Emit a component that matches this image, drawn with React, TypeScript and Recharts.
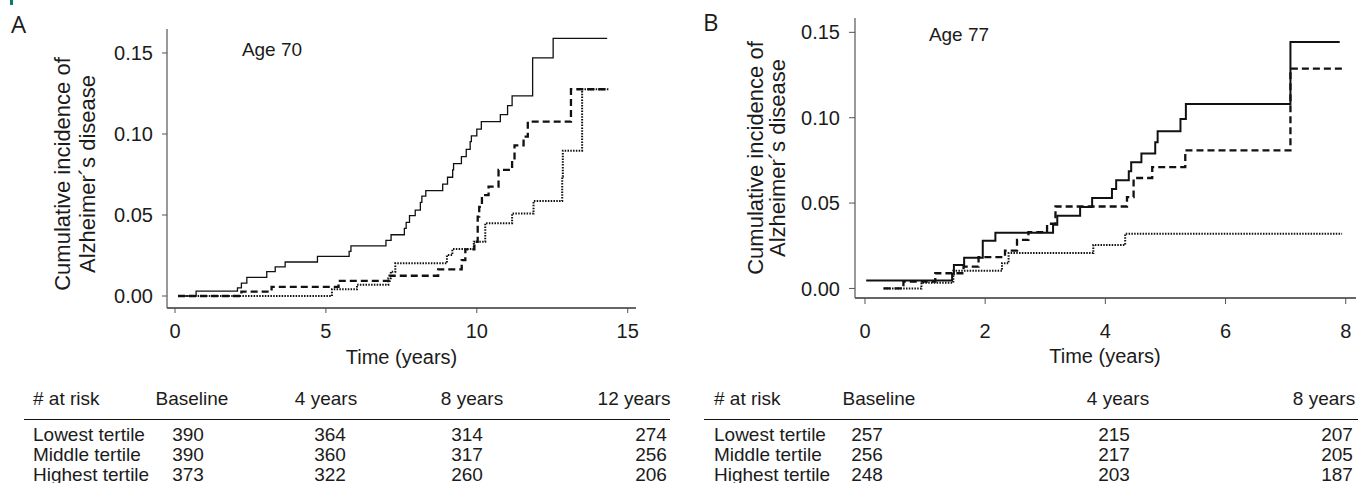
import { Fragment } from "react";
import { Label, Line, LineChart, XAxis, YAxis } from "recharts";

// Kaplan-Meier style step curves: [years, cumulative incidence]
const age70Solid = [
  [0.1, 0], [0.7, 0.003], [2.07, 0.005], [2.2, 0.008], [2.38, 0.0115], [3.04, 0.015],
  [3.32, 0.018], [3.65, 0.021], [4.72, 0.0245], [5.77, 0.0276], [5.83, 0.031],
  [6.99, 0.0344], [7.16, 0.0378], [7.6, 0.0418], [7.66, 0.0455], [7.77, 0.0496],
  [7.96, 0.053], [8.13, 0.0578], [8.18, 0.0617], [8.31, 0.065], [8.87, 0.069],
  [9.03, 0.0733], [9.2, 0.0778], [9.23, 0.0817], [9.49, 0.086], [9.65, 0.0905],
  [9.78, 0.0953], [9.82, 0.0988], [10.0, 0.103], [10.15, 0.1076], [10.78, 0.112],
  [11.02, 0.1175], [11.17, 0.1235], [11.85, 0.147], [12.53, 0.159], [14.32, 0.159],
];
const age70Dashed = [
  [0.1, 0], [2.2, 0.0027], [3.2, 0.0057], [5.42, 0.0094], [7.11, 0.0125], [8.72, 0.0165],
  [9.5, 0.0222], [9.62, 0.0288], [9.92, 0.0335], [10.03, 0.049], [10.08, 0.055],
  [10.17, 0.0623], [10.39, 0.0675], [10.72, 0.0778], [11.17, 0.084], [11.25, 0.093],
  [11.55, 0.0984], [11.69, 0.1076], [13.12, 0.1276], [14.37, 0.1276],
];
const age70Dotted = [
  [0.1, 0], [5.2, 0.0041], [6.03, 0.007], [7.07, 0.011], [7.15, 0.015], [7.3, 0.0202],
  [9.01, 0.0253], [9.19, 0.029], [9.9, 0.0335], [10.28, 0.0449], [11.17, 0.051],
  [11.88, 0.0586], [12.83, 0.0737], [12.85, 0.0897], [13.49, 0.1276], [14.37, 0.1276],
];

const age77Solid = [
  [0.02, 0.0046], [1.45, 0.0083], [1.48, 0.0138], [1.65, 0.018], [1.96, 0.028],
  [2.17, 0.0326], [3.13, 0.0373], [3.2, 0.0426], [3.58, 0.0477], [3.78, 0.053],
  [4.11, 0.0583], [4.18, 0.0633], [4.39, 0.0686], [4.43, 0.0739], [4.6, 0.079],
  [4.83, 0.0856], [4.87, 0.092], [5.25, 0.0993], [5.34, 0.108], [7.08, 0.1443], [7.9, 0.1443],
];
const age77Dashed = [
  [0.31, 0], [0.64, 0.004], [1.17, 0.0089], [1.64, 0.0128], [1.89, 0.0183], [2.33, 0.0222],
  [2.53, 0.0285], [2.72, 0.033], [3.03, 0.0379], [3.17, 0.048], [4.36, 0.0535],
  [4.47, 0.0647], [4.78, 0.0711], [5.33, 0.0809], [7.08, 0.1287], [7.94, 0.1287],
];
const age77Dotted = [
  [0.31, 0], [0.94, 0.0034], [1.47, 0.0103], [2.28, 0.0148], [2.39, 0.0207],
  [3.8, 0.0255], [4.33, 0.032], [7.94, 0.032],
];

const ticks70 = [0, 5, 10, 15];
const ticks77 = [0, 2, 4, 6, 8];
const yTicks = [0, 0.05, 0.1, 0.15];

const rowLabels = ["Lowest tertile", "Middle tertile", "Highest tertile"];
const colsA = ["Baseline", "4 years", "8 years", "12 years"];
const riskA = [
  [390, 364, 314, 274],
  [390, 360, 317, 256],
  [373, 322, 260, 206],
];
const colsB = ["Baseline", "4 years", "8 years"];
const riskB = [
  [257, 215, 207],
  [256, 217, 205],
  [248, 203, 187],
];

const FONT = '"Liberation Sans", Arial, Helvetica, sans-serif';
const INK = "#1b1b1b";
const AXIS = "#555";

const pts = (rows: number[][]) => rows.map(([t, v]) => ({ t, v }));

type PanelProps = {
  left: number;
  width: number;
  height: number;
  top: number;
  right: number;
  yAxisWidth: number;
  xAxisHeight: number;
  xDomain: [number, number];
  yDomain: [number, number];
  xTicks: number[];
  tickSize: number;
  xTickMargin: number;
  solid: number[][];
  dashed: number[][];
  dotted: number[][];
  solidWidth: number;
  yLabelX: [number, number];
  yLabelY: number;
  xLabelX: number;
  xLabelY: number;
};

function StepPanel(p: PanelProps) {
  const tick = { fill: INK, fontSize: 20, fontFamily: FONT };
  return (
    <div style={{ position: "absolute", left: p.left, top: 0 }}>
      <LineChart
        width={p.width}
        height={p.height}
        margin={{ top: p.top, right: p.right, bottom: 0, left: 0 }}
      >
        <XAxis
          dataKey="t"
          type="number"
          domain={p.xDomain}
          ticks={p.xTicks}
          allowDataOverflow
          height={p.xAxisHeight}
          tick={tick}
          tickSize={p.tickSize}
          tickMargin={p.xTickMargin}
          axisLine={{ stroke: "#333", strokeWidth: 1.4 }}
          tickLine={{ stroke: AXIS }}
        >
          <Label
            content={() => (
              <text x={p.xLabelX} y={p.xLabelY} textAnchor="middle" dominantBaseline="central"
                fontSize={20} fontFamily={FONT} fill={INK}>
                Time (years)
              </text>
            )}
          />
        </XAxis>
        <YAxis
          type="number"
          domain={p.yDomain}
          ticks={yTicks}
          allowDataOverflow
          width={p.yAxisWidth}
          tick={tick}
          tickSize={p.tickSize}
          tickMargin={9}
          tickFormatter={(v: number) => v.toFixed(2)}
          axisLine={{ stroke: AXIS, strokeWidth: 1.2 }}
          tickLine={{ stroke: AXIS }}
        >
          <Label
            content={() => (
              <g fontSize={22} fontFamily={FONT} fill={INK}>
                <text x={p.yLabelX[0]} y={p.yLabelY} textAnchor="middle" dominantBaseline="central"
                  transform={`rotate(-90, ${p.yLabelX[0]}, ${p.yLabelY})`}>
                  Cumulative incidence of
                </text>
                <text x={p.yLabelX[1]} y={p.yLabelY} textAnchor="middle" dominantBaseline="central"
                  transform={`rotate(-90, ${p.yLabelX[1]}, ${p.yLabelY})`}>
                  Alzheimer´s disease
                </text>
              </g>
            )}
          />
        </YAxis>
        <Line data={pts(p.dotted)} dataKey="v" type="stepAfter" stroke="#111" strokeWidth={2}
          strokeDasharray="1.5 1.3" dot={false} activeDot={false} isAnimationActive={false} />
        <Line data={pts(p.dashed)} dataKey="v" type="stepAfter" stroke="#111" strokeWidth={2.3}
          strokeDasharray="7 4" dot={false} activeDot={false} isAnimationActive={false} />
        <Line data={pts(p.solid)} dataKey="v" type="stepAfter" stroke="#111" strokeWidth={p.solidWidth}
          dot={false} activeDot={false} isAnimationActive={false} />
      </LineChart>
    </div>
  );
}

const txt = (x: number, y: number, s: string | number, align: "left" | "center" | "right" = "center") => {
  const w = 160;
  const l = align === "left" ? x : align === "right" ? x - w : x - w / 2;
  return (
    <div
      key={`${x}-${y}-${s}`}
      style={{
        position: "absolute", left: l, top: y - 11, width: w, height: 22, lineHeight: "22px",
        textAlign: align, fontSize: 19, fontFamily: FONT, color: INK, whiteSpace: "nowrap",
      }}
    >
      {s}
    </div>
  );
};

function RiskTable({ labelX, cols, headX, numX, rows, lineX }: {
  labelX: number; cols: string[]; headX: number[]; numX: number[]; rows: number[][]; lineX: [number, number];
}) {
  const rowY = [434.5, 455, 474.5];
  return (
    <>
      {txt(labelX, 398.5, "# at risk", "left")}
      {cols.map((c, i) => txt(headX[i], 398.5, c))}
      <div style={{ position: "absolute", left: lineX[0], top: 419, width: lineX[1] - lineX[0], height: 1.2, background: "#111" }} />
      {rows.map((r, i) => (
        <Fragment key={i}>
          {txt(labelX, rowY[i], rowLabels[i], "left")}
          {r.map((n, j) => txt(numX[j], rowY[i], n))}
        </Fragment>
      ))}
    </>
  );
}

export default function App() {
  return (
    <div style={{ position: "relative", width: 1358, height: 483, overflow: "hidden", background: "#fff" }}>
      <style>{`body{margin:0}`}</style>
      <div style={{ position: "absolute", left: 10, top: 0, width: 3, height: 5, background: "#0b7a6f" }} />
      <div style={{ position: "absolute", left: 11, top: 7, fontSize: 24, fontFamily: '"Open Sans", sans-serif', color: INK }}>A</div>
      <div style={{ position: "absolute", left: 703, top: 5, fontSize: 24, fontFamily: '"Open Sans", sans-serif', color: INK }}>B</div>
      {txt(272, 50, "Age 70")}
      {txt(959, 35, "Age 77")}

      <StepPanel
        left={0} width={680} height={372} top={29} right={44}
        yAxisWidth={167} xAxisHeight={64}
        xDomain={[-0.265, 15.275]} yDomain={[-0.0074, 0.1648]}
        xTicks={ticks70} tickSize={5} xTickMargin={11}
        solid={age70Solid} dashed={age70Dashed} dotted={age70Dotted} solidWidth={1.3}
        yLabelX={[62, 87]} yLabelY={174} xLabelX={401.5} xLabelY={357}
      />
      <StepPanel
        left={680} width={678} height={372} top={18} right={2}
        yAxisWidth={175} xAxisHeight={74}
        xDomain={[-0.166, 8.171]} yDomain={[-0.0056, 0.1584]}
        xTicks={ticks77} tickSize={6} xTickMargin={20}
        solid={age77Solid} dashed={age77Dashed} dotted={age77Dotted} solidWidth={2}
        yLabelX={[75, 97]} yLabelY={158} xLabelX={425} xLabelY={356}
      />

      <RiskTable labelX={33} cols={colsA} headX={[192, 326, 472, 634]} numX={[188, 330, 467, 651]}
        rows={riskA} lineX={[24, 670]} />
      <RiskTable labelX={714} cols={colsB} headX={[879, 1118, 1324]} numX={[867, 1114, 1337]}
        rows={riskB} lineX={[704, 1358]} />
    </div>
  );
}
